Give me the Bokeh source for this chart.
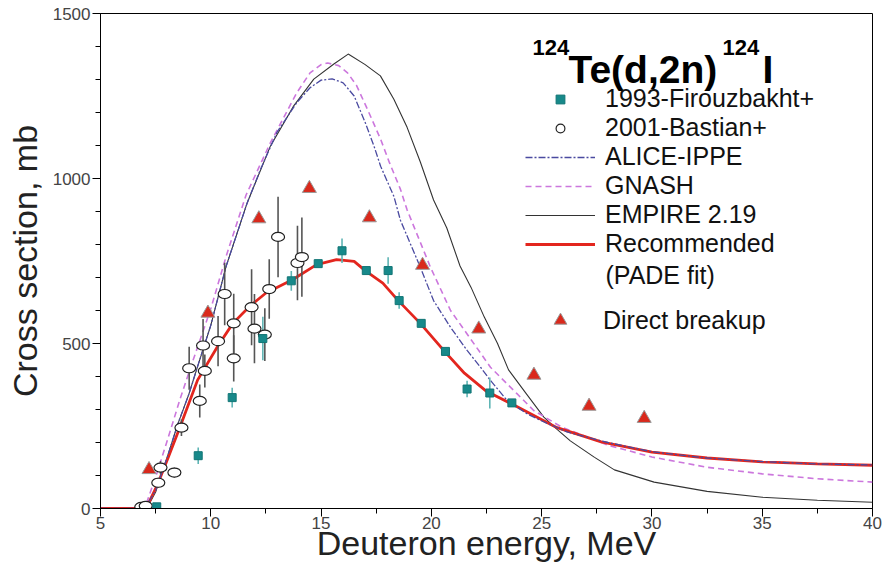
from bokeh.plotting import figure
from bokeh.models import Range1d, SingleIntervalTicker, Legend, LegendItem, Label
from bokeh.embed import file_html
from bokeh.resources import INLINE

# ---------------- data ----------------
# 1993-Firouzbakht+ (squares)
firouz_E = [7.55, 9.43, 10.97, 12.36, 13.65, 14.87, 15.95, 17.05, 18.04, 18.54, 19.54, 20.64, 21.62, 22.65, 23.65]
firouz_S = [5, 160, 336, 515, 690, 742, 781, 721, 721, 630, 561, 476, 362, 350, 320]
firouz_err = [0, 25, 30, 66, 30, 0, 37, 0, 40, 25, 0, 0, 25, 47, 0]

# 2001-Bastian+ (open ellipses)
bastian_E = [6.85, 7.05, 7.62, 7.72, 8.35, 8.67, 9.02, 9.5, 9.65, 9.73, 10.33, 10.63, 11.04, 11.04,
             11.85, 11.98, 12.45, 12.65, 13.05, 13.93, 14.13]
bastian_S = [5, 8, 78, 124, 109, 245, 425, 326, 494, 417, 507, 650, 561, 455,
             610, 545, 527, 665, 823, 744, 762]
bastian_err = [0, 0, 15, 20, 15, 25, 65, 50, 80, 50, 76, 95, 90, 70,
               115, 105, 80, 90, 122, 113, 120]

# Direct breakup (triangles)
breakup_E = [7.2, 9.87, 12.18, 14.47, 17.19, 19.6, 22.15, 24.65, 27.15, 29.65]
breakup_S = [118, 592, 878, 970, 881, 737, 544, 404, 310, 273]

# ALICE-IPPE
alice_E = [5, 7.0, 7.5, 8.0, 8.5, 9.0, 9.4, 10.0, 10.7, 11.65, 12.25, 13.0, 13.9, 14.5, 15.0, 15.5,
           16.0, 16.5, 17.0, 17.4, 17.7, 18.3, 18.6, 19.5, 20.1, 20.87, 21.62, 22.23, 22.68, 23.44,
           24.34, 24.95, 26.15, 28, 30, 32.5, 35, 37.5, 40]
alice_S = [0, 0, 55, 150, 255, 345, 430, 555, 735, 926, 1027, 1140, 1230, 1275, 1298, 1302,
           1290, 1250, 1170, 1098, 1037, 946, 873, 731, 630, 549, 479, 428, 388, 327,
           287, 267, 232, 200, 172, 153, 142, 135, 132]

# GNASH
gnash_E = [5, 7.0, 7.5, 8.0, 8.6, 9.2, 10.0, 10.7, 11.6, 12.7, 13.9, 14.5, 15.0, 15.3, 15.8, 16.2,
           16.6, 17.1, 17.7, 18.1, 18.6, 18.9, 19.96, 20.87, 21.62, 22.68, 23.88, 24.64, 25.9, 28,
           30, 32.5, 35, 37.5, 40]
gnash_S = [0, 0, 95, 200, 330, 450, 605, 765, 950, 1108, 1260, 1320, 1345, 1350, 1342, 1320,
           1283, 1210, 1119, 1048, 967, 905, 731, 600, 529, 428, 348, 297, 247, 192,
           156, 125, 105, 90, 80]

# EMPIRE 2.19
empire_E = [5, 7.1, 7.5, 8.0, 8.5, 9.0, 9.4, 10.0, 10.7, 11.65, 12.7, 13.76, 14.67, 15.58, 16.23,
            17.0, 17.69, 18.3, 18.9, 19.5, 20.1, 20.7, 21.3, 21.8, 22.4, 23.0, 23.5, 24.3, 25.1,
            25.7, 26.3, 27.4, 28.3, 30.1, 32.5, 35, 37.5, 40]
empire_S = [0, 0, 50, 150, 255, 345, 430, 555, 735, 926, 1098, 1220, 1301, 1347, 1377,
            1345, 1311, 1240, 1155, 1050, 935, 850, 735, 670, 580, 500, 420, 348, 277,
            240, 205, 155, 117, 80, 52, 34, 25, 19]

# Recommended (PADE fit)
rec_E = [5, 6.9, 7.1, 7.6, 8.1, 8.6, 9.4, 10.3, 11.0, 11.8, 12.5, 13.7, 14.8, 15.7, 16.5, 17.0,
         17.8, 18.5, 19.5, 20.6, 21.5, 22.5, 23.7, 25.7, 27.7, 30, 32.5, 35, 37.5, 40]
rec_S = [0, 0, 5, 75, 160, 246, 389, 490, 561, 615, 653, 693, 739, 754, 749, 721,
         683, 630, 561, 476, 410, 355, 315, 245, 202, 171, 153, 141, 135, 131]

x_ticks_interval = 5
y_ticks_interval = 500

# ---------------- figure ----------------
W, H = 889, 566
L, R, T, B = 100, 17, 13, 58
X0, X1, Y0, Y1 = 5, 40, 0, 1500

p = figure(width=W, height=H, output_backend="svg", toolbar_location=None,
           x_range=Range1d(X0, X1), y_range=Range1d(Y0, Y1),
           min_border_left=L, min_border_right=R, min_border_top=T, min_border_bottom=B,
           background_fill_color="white", border_fill_color="white")
p.xgrid.visible = False
p.ygrid.visible = False
p.outline_line_color = "black"
p.outline_line_width = 1

p.xaxis.ticker = SingleIntervalTicker(interval=x_ticks_interval, num_minor_ticks=2)
p.yaxis.ticker = SingleIntervalTicker(interval=y_ticks_interval, num_minor_ticks=5)
for ax in (p.xaxis[0], p.yaxis[0]):
    ax.axis_line_color = "black"
    ax.major_tick_line_color = "black"
    ax.minor_tick_line_color = "black"
    ax.major_tick_out = 8
    ax.major_tick_in = 0
    ax.minor_tick_out = 5
    ax.minor_tick_in = 0
    ax.major_label_text_font = "Liberation Sans"
    ax.major_label_text_font_size = "17px"
    ax.major_label_text_color = "#444444"
    ax.axis_label_text_font = "Liberation Sans"
    ax.axis_label_text_font_size = "34px"
    ax.axis_label_text_font_style = "normal"
    ax.axis_label_text_color = "#222222"
p.xaxis.axis_label = "Deuteron energy, MeV"
p.yaxis.axis_label = "Cross section, mb"
p.xaxis.major_label_standoff = 0
p.xaxis.axis_label_standoff = -8
p.yaxis.major_label_standoff = 2
p.yaxis.axis_label_standoff = 6

# curves
r_emp = p.line(empire_E, empire_S, line_color="#333333", line_width=1.1)
r_gna = p.line(gnash_E, gnash_S, line_color="#cc77dd", line_width=1.6, line_dash="6 4")
r_rec = p.line(rec_E, rec_S, line_color="#e3261e", line_width=2.8)
r_ali = p.line(alice_E, alice_S, line_color="#4a4aa0", line_width=1.3, line_dash="7 2 2 2")

# error bars
f_lo = [s - e for s, e in zip(firouz_S, firouz_err)]
f_hi = [s + e for s, e in zip(firouz_S, firouz_err)]
b_lo = [s - e for s, e in zip(bastian_S, bastian_err)]
b_hi = [s + e for s, e in zip(bastian_S, bastian_err)]
p.segment(x0=bastian_E, y0=b_lo, x1=bastian_E, y1=b_hi, line_color="#555555", line_width=1.6)
p.segment(x0=firouz_E, y0=f_lo, x1=firouz_E, y1=f_hi, line_color="#5fb5b5", line_width=1.6)

# legend glyph for Bastian (small circle, hidden under the first ellipse)
px_ci = p.scatter(bastian_E[:1], bastian_S[:1], marker="circle", size=7, fill_color="white",
                  line_color="#222222", line_width=1.2)

# markers
p.ellipse(x=bastian_E, y=bastian_S, width=13, height=9, width_units="screen", height_units="screen",
          fill_color="white", line_color="#222222", line_width=1.2)
r_sq = p.scatter(firouz_E, firouz_S, marker="square", size=8, fill_color="#17898a", line_color="#127575")
r_tri = p.scatter(breakup_E, breakup_S, marker="triangle", size=14, fill_color="#d9291c",
                  line_color="#9a9a9a", line_width=1)


def dx(px):
    return X0 + (px - L) * (X1 - X0) / (W - L - R)


def dy(py):
    return Y0 + (H - B - py) * (Y1 - Y0) / (H - B - T)


leg_common = dict(orientation="vertical", glyph_width=70,
                  label_text_font="Liberation Sans", label_text_color="#111111",
                  spacing=0, padding=0, margin=0, border_line_color=None,
                  background_fill_alpha=0)
leg1 = Legend(items=[LegendItem(label="1993-Firouzbakht+", renderers=[r_sq]),
                     LegendItem(label="2001-Bastian+", renderers=[px_ci]),
                     LegendItem(label="ALICE-IPPE", renderers=[r_ali]),
                     LegendItem(label="GNASH", renderers=[r_gna]),
                     LegendItem(label="EMPIRE 2.19", renderers=[r_emp]),
                     LegendItem(label="Recommended", renderers=[r_rec])],
              location=(425, 250), label_standoff=10, label_text_font_size="25px",
              glyph_height=22, label_height=22, **leg_common)
p.add_layout(leg1)
leg2 = Legend(items=[LegendItem(label="Direct breakup", renderers=[r_tri])],
              location=(425, 172), label_standoff=8, label_text_font_size="25px",
              glyph_height=32, label_height=32, **leg_common)
p.add_layout(leg2)

p.add_layout(Label(x=dx(605), y=dy(274), text="(PADE fit)", text_baseline="middle",
                   text_font="Liberation Sans", text_font_size="25px", text_color="#111111"))

# title with superscripts
tfont = "Liberation Sans"
p.add_layout(Label(x=dx(532), y=dy(47), text="124", text_font=tfont, text_font_size="22px",
                   text_font_style="bold", text_baseline="alphabetic", text_color="#000000"))
p.add_layout(Label(x=dx(568), y=dy(69), text="Te(d,2n)", text_font=tfont, text_font_size="39px",
                   text_font_style="bold", text_baseline="alphabetic", text_color="#000000"))
p.add_layout(Label(x=dx(722), y=dy(47), text="124", text_font=tfont, text_font_size="22px",
                   text_font_style="bold", text_baseline="alphabetic", text_color="#000000"))
p.add_layout(Label(x=dx(762), y=dy(69), text="I", text_font=tfont, text_font_size="39px",
                   text_font_style="bold", text_baseline="alphabetic", text_color="#000000"))

open("out.html", "w").write(file_html(p, INLINE))
